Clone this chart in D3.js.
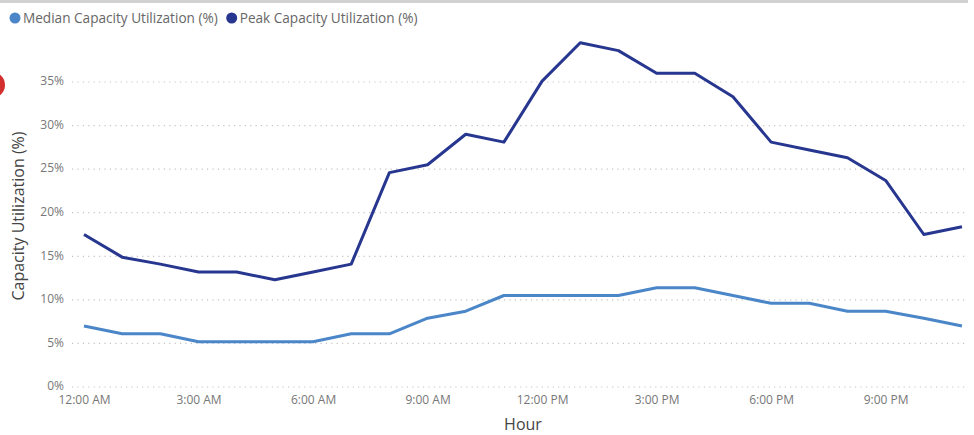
<!DOCTYPE html>
<html><head><meta charset="utf-8">
<script src="https://cdn.jsdelivr.net/npm/d3@7"></script>
<style>
body{margin:0;background:#fff;}
svg{display:block;font-family:"Segoe UI","Open Sans","Noto Sans",sans-serif;}
</style></head>
<body>
<svg id="chart" width="974" height="435"></svg>
<script>
const hours = d3.range(0, 24);
const tickHours = [0, 3, 6, 9, 12, 15, 18, 21];
const tickLabels = ["12:00 AM","3:00 AM","6:00 AM","9:00 AM","12:00 PM","3:00 PM","6:00 PM","9:00 PM"];
const yTicks = [0, 5, 10, 15, 20, 25, 30, 35];
const seriesNames = ["Median Capacity Utilization (%)", "Peak Capacity Utilization (%)"];
const seriesColors = ["#4a86c8", "#27368f"];
const median = [7.0, 6.1, 6.1, 5.2, 5.2, 5.2, 5.2, 6.1, 6.1, 7.9, 8.7, 10.5, 10.5, 10.5, 10.5, 11.4, 11.4, 10.5, 9.6, 9.6, 8.7, 8.7, 7.9, 7.0];
const peak = [17.5, 14.9, 14.1, 13.2, 13.2, 12.3, 13.2, 14.1, 24.6, 25.5, 29.0, 28.1, 35.1, 39.5, 38.6, 36.0, 36.0, 33.3, 28.1, 27.2, 26.3, 23.7, 17.5, 18.4];

const svg = d3.select("#chart");

// top bar
svg.append("rect").attr("x",0).attr("y",0).attr("width",968).attr("height",3).attr("fill","#d2d2d2");
// red indicator circle
svg.append("circle").attr("cx",-8).attr("cy",85).attr("r",13).attr("fill","#d32f2f");

const x = d3.scaleLinear().domain([0, 23]).range([84, 962]);
const y = d3.scaleLinear().domain([0, 35]).range([387, 82]);

// gridlines
svg.append("g").selectAll("line").data(yTicks).join("line")
  .attr("x1", 72).attr("x2", 968)
  .attr("y1", d => y(d)).attr("y2", d => y(d))
  .attr("stroke", "#c4c4c4").attr("stroke-width", 1.2)
  .attr("stroke-dasharray", "1.2,4.2");

// y axis labels
const yAxis = d3.axisLeft(y).tickValues(yTicks).tickFormat(d => d + "%").tickSize(0).tickPadding(0);
const gy = svg.append("g").attr("transform", "translate(64,-1)").call(yAxis);
gy.select(".domain").remove();
gy.selectAll("text").attr("fill", "#777").style("font-size", "12px")
  .style("font-family", '"Segoe UI","Open Sans",sans-serif');

// x axis labels
const xAxis = d3.axisBottom(x).tickValues(tickHours).tickFormat((d, i) => tickLabels[i]).tickSize(0).tickPadding(0);
const gx = svg.append("g").attr("transform", "translate(0,395)").call(xAxis);
gx.select(".domain").remove();
gx.selectAll("text").attr("fill", "#777").style("font-size", "12px")
  .style("font-family", '"Segoe UI","Open Sans",sans-serif');

// axis titles
svg.append("text").attr("x", 523).attr("y", 430).attr("text-anchor", "middle")
  .attr("fill", "#444").style("font-size", "16px").text("Hour");
svg.append("text").attr("transform", "translate(24,216) rotate(-90)").attr("text-anchor", "middle")
  .attr("fill", "#444").style("font-size", "16px").text("Capacity Utilization (%)");

// lines
const line = d3.line().x((d, i) => x(hours[i])).y(d => y(d));
[median, peak].forEach((s, k) => {
  svg.append("path").datum(s).attr("d", line)
    .attr("fill", "none").attr("stroke", seriesColors[k])
    .attr("stroke-width", 3).attr("stroke-linejoin", "round");
});

// legend
const lg = svg.append("g");
let lx = 15;
seriesNames.forEach((n, k) => {
  lg.append("circle").attr("cx", lx).attr("cy", 18).attr("r", 5.5).attr("fill", seriesColors[k]);
  const t = lg.append("text").attr("x", lx + 8).attr("y", 23).attr("fill", "#666")
    .style("font-size", "13.6px").text(n);
  lx += t.node().getComputedTextLength() + 8 + 14;
});
</script>
</body></html>
